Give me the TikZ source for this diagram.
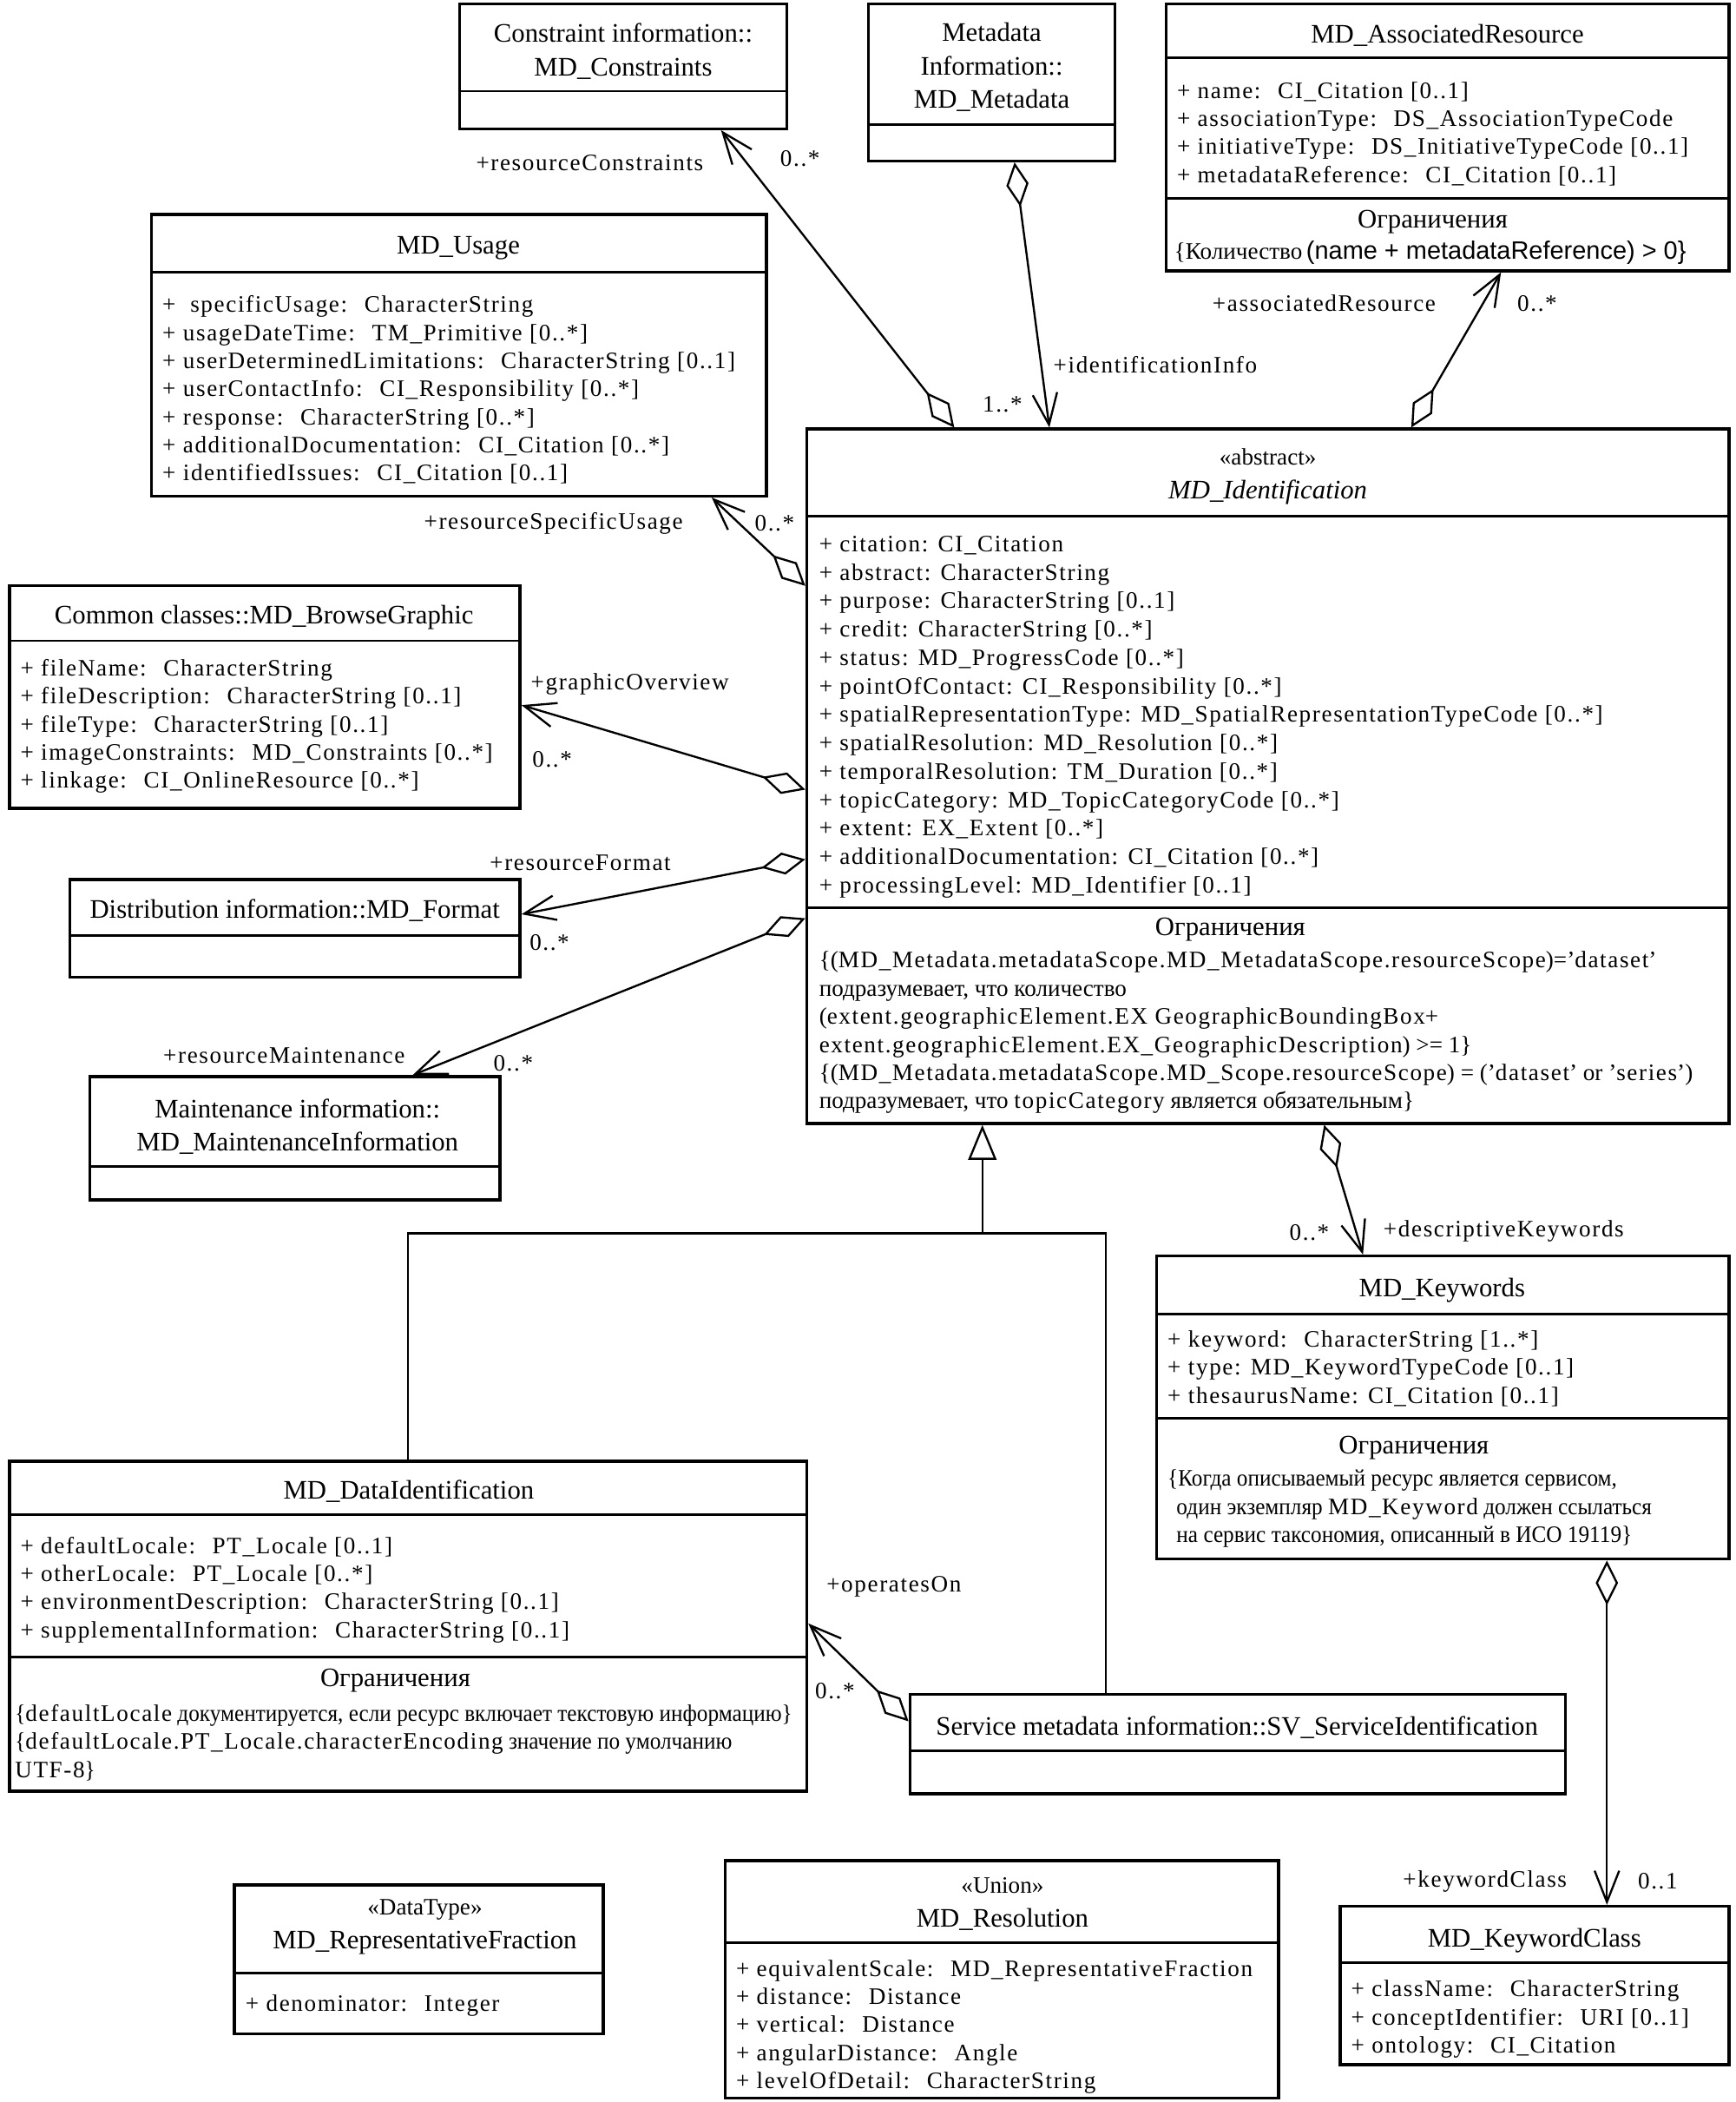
\documentclass[tikz,border=0pt]{standalone}
\usepackage{fontspec}
\setmainfont{Liberation Serif}
\newfontfamily\atfont[LetterSpace=6]{Liberation Serif}
\newfontfamily\rucond[FakeStretch=0.93]{Liberation Serif}
\newfontfamily\sansf{Liberation Sans}
\usetikzlibrary{arrows.meta,fit}

\newcommand{\hdsize}{\fontsize{17}{21.3}\selectfont}
\newcommand{\atsize}{\fontsize{15}{17.9}\atfont}
\newcommand{\rusize}{\fontsize{15}{17.9}\selectfont}
\newcommand{\code}[1]{{\atfont #1}}

\begin{document}
\begin{tikzpicture}[x=0.3mm, y=-0.3mm,
  cls/.style={draw, line width=1.9pt, inner sep=0pt},
  div/.style={line width=1.6pt},
  ttl/.style={align=center, inner sep=0pt, yshift=-0.7mm, font=\hdsize},
  attr/.style={align=left, inner sep=0pt, anchor=west, yshift=-0.7mm, font=\atsize},
  cons/.style={align=left, inner sep=0pt, anchor=west, yshift=-0.7mm, font=\rusize},
  role/.style={inner sep=0pt, yshift=-0.4mm, font=\atsize},
  link/.style={line width=1.3pt},
  aggr/.style={link, {Diamond[open,length=10mm,width=5mm]}-{Straight Barb[length=7mm,width=5.5mm]}},
  gen/.style={link, -{Triangle[open,length=7.8mm,width=6.3mm]}}
]
\useasboundingbox (0,0) rectangle (1295,1568);

% class boxes
\node[cls, fit={(343,3) (587,96)}] (constr) {};
\node[cls, fit={(648,3) (832,120)}] (meta) {};
\node[cls, fit={(870,3) (1290,202)}] (assoc) {};
\node[cls, fit={(113,160) (572,370)}] (usage) {};
\node[cls, fit={(602,320) (1290,838)}] (ident) {};
\node[cls, fit={(7,437) (388,603)}] (browse) {};
\node[cls, fit={(52,656) (388,729)}] (format) {};
\node[cls, fit={(67,803) (373,895)}] (maint) {};
\node[cls, fit={(863,937) (1290,1163)}] (kw) {};
\node[cls, fit={(7,1090) (602,1336)}] (dataid) {};
\node[cls, fit={(679,1264) (1168,1338)}] (serv) {};
\node[cls, fit={(175,1406) (450,1517)}] (repfrac) {};
\node[cls, fit={(541,1388) (954,1565)}] (resol) {};
\node[cls, fit={(1000,1422) (1290,1540)}] (kwclass) {};

% compartments
\draw[div] (constr.west |- 0,68) -- (constr.east |- 0,68);
\draw[div] (meta.west |- 0,93) -- (meta.east |- 0,93);
\draw[div] (assoc.west |- 0,43) -- (assoc.east |- 0,43);
\draw[div] (assoc.west |- 0,148) -- (assoc.east |- 0,148);
\draw[div] (usage.west |- 0,203) -- (usage.east |- 0,203);
\draw[div] (ident.west |- 0,385) -- (ident.east |- 0,385);
\draw[div] (ident.west |- 0,677) -- (ident.east |- 0,677);
\draw[div] (browse.west |- 0,478) -- (browse.east |- 0,478);
\draw[div] (format.west |- 0,698) -- (format.east |- 0,698);
\draw[div] (maint.west |- 0,870) -- (maint.east |- 0,870);
\draw[div] (kw.west |- 0,980) -- (kw.east |- 0,980);
\draw[div] (kw.west |- 0,1058) -- (kw.east |- 0,1058);
\draw[div] (dataid.west |- 0,1130) -- (dataid.east |- 0,1130);
\draw[div] (dataid.west |- 0,1236) -- (dataid.east |- 0,1236);
\draw[div] (serv.west |- 0,1306) -- (serv.east |- 0,1306);
\draw[div] (repfrac.west |- 0,1472) -- (repfrac.east |- 0,1472);
\draw[div] (resol.west |- 0,1449) -- (resol.east |- 0,1449);
\draw[div] (kwclass.west |- 0,1464) -- (kwclass.east |- 0,1464);

% titles
\node[ttl] (constr-t) at (465,36) {Constraint information::\\MD\_Constraints};
\node[ttl] (meta-t) at (740,48) {Metadata\\Information::\\MD\_Metadata};
\node[ttl] (assoc-t) at (1080,24) {MD\_AssociatedResource};
\node[ttl] (usage-t) at (342,183) {MD\_Usage};
\node[ttl] (ident-t) at (946,353) {{\rusize «abstract»}\\\textit{MD\_Identification}};
\node[ttl] (browse-t) at (197,458) {Common classes::MD\_BrowseGraphic};
\node[ttl] (format-t) at (220,677) {Distribution information::MD\_Format};
\node[ttl] (maint-t) at (222,838) {Maintenance information::\\MD\_MaintenanceInformation};
\node[ttl] (kw-t) at (1076,960) {MD\_Keywords};
\node[ttl] (dataid-t) at (305,1110) {MD\_DataIdentification};
\node[ttl] (serv-t) at (923,1286) {Service metadata information::SV\_ServiceIdentification};
\node[ttl] (repfrac-t) at (317,1435) {{\rusize «DataType»}\\MD\_RepresentativeFraction};
\node[ttl] (resol-t) at (748,1418) {{\rusize «Union»}\\MD\_Resolution};
\node[ttl] (kwclass-t) at (1145,1445) {MD\_KeywordClass};

% attributes
\node[attr] (assoc-a) at (878,97.5) {+ name:~ CI\_Citation [0..1]\\+ associationType:~ DS\_AssociationTypeCode\\+ initiativeType:~ DS\_InitiativeTypeCode [0..1]\\+ metadataReference:~ CI\_Citation [0..1]};
\node[attr] (usage-a) at (121,288.5) {+~ specificUsage:~ CharacterString\\+ usageDateTime:~ TM\_Primitive [0..*]\\+ userDeterminedLimitations:~ CharacterString [0..1]\\+ userContactInfo:~ CI\_Responsibility [0..*]\\+ response:~ CharacterString [0..*]\\+ additionalDocumentation:~ CI\_Citation [0..*]\\+ identifiedIssues:~ CI\_Citation [0..1]};
\node[attr, font=\fontsize{15}{18.1}\atfont] (ident-a) at (611,532.5) {+ citation: CI\_Citation\\+ abstract: CharacterString\\+ purpose: CharacterString [0..1]\\+ credit: CharacterString [0..*]\\+ status: MD\_ProgressCode [0..*]\\+ pointOfContact: CI\_Responsibility [0..*]\\+ spatialRepresentationType: MD\_SpatialRepresentationTypeCode [0..*]\\+ spatialResolution: MD\_Resolution [0..*]\\+ temporalResolution: TM\_Duration [0..*]\\+ topicCategory: MD\_TopicCategoryCode [0..*]\\+ extent: EX\_Extent [0..*]\\+ additionalDocumentation: CI\_Citation [0..*]\\+ processingLevel: MD\_Identifier [0..1]};
\node[attr] (browse-a) at (15,539.5) {+ fileName:~ CharacterString\\+ fileDescription:~ CharacterString [0..1]\\+ fileType:~ CharacterString [0..1]\\+ imageConstraints:~ MD\_Constraints [0..*]\\+ linkage:~ CI\_OnlineResource [0..*]};
\node[attr] (kw-a) at (871,1018.5) {+ keyword:~ CharacterString [1..*]\\+ type: MD\_KeywordTypeCode [0..1]\\+ thesaurusName: CI\_Citation [0..1]};
\node[attr] (dataid-a) at (15,1183.5) {+ defaultLocale:~ PT\_Locale [0..1]\\+ otherLocale:~ PT\_Locale [0..*]\\+ environmentDescription:~ CharacterString [0..1]\\+ supplementalInformation:~ CharacterString [0..1]};
\node[attr] (repfrac-a) at (183,1494) {+ denominator:~ Integer};
\node[attr] (resol-a) at (549,1509.5) {+ equivalentScale:~ MD\_RepresentativeFraction\\+ distance:~ Distance\\+ vertical:~ Distance\\+ angularDistance:~ Angle\\+ levelOfDetail:~ CharacterString};
\node[attr] (kwclass-a) at (1008,1504) {+ className:~ CharacterString\\+ conceptIdentifier:~ URI [0..1]\\+ ontology:~ CI\_Citation};

% constraints
\node[ttl] (assoc-c) at (1069,163) {Ограничения};
\node[cons] (assoc-cl) at (876,186) {\{Количество\,{\fontsize{16}{17.9}\sansf(name + metadataReference) > 0\}}};
\node[ttl] (ident-c) at (918,691) {Ограничения};
\node[cons] (ident-cl) at (611,768) {\{(\code{MD\_Metadata.metadataScope.MD\_MetadataScope.resourceScope})=’\code{dataset}’\\подразумевает, что количество\\(\code{extent.geographicElement.EX GeographicBoundingBox}+\\\code{extent.geographicElement.EX\_GeographicDescription}) >= 1\}\\\{(\code{MD\_Metadata.metadataScope.MD\_Scope.resourceScope}) = (’\code{dataset}’ or ’\code{series}’)\\подразумевает, что \code{topicCategory} является обязательным\}};
\node[ttl] (kw-c) at (1055,1078) {Ограничения};
\node[cons, font=\fontsize{15}{17.9}\rucond] (kw-cl) at (871,1123) {\{Когда описываемый ресурс является сервисом,\\\hspace{2mm}один экземпляр \code{MD\_Keyword} должен ссылаться\\\hspace{2mm}на сервис таксономия, описанный в ИСО 19119\}};
\node[ttl] (dataid-c) at (295,1251) {Ограничения};
\node[cons, font=\fontsize{15}{17.9}\rucond] (dataid-cl) at (11,1297.5) {\{\code{defaultLocale} документируется, если ресурс включает текстовую информацию\}\\\{\code{defaultLocale.PT\_Locale.characterEncoding} значение по умолчанию\\\code{UTF-8}\}};

% associations
\draw[aggr] (ident.north -| 712,0) -- (constr.south -| 538,0);
\draw[aggr] (meta.south -| 757,0) -- (ident.north -| 783,0);
\draw[aggr] (ident.north -| 1053,0) -- (assoc.south -| 1120,0);
\draw[aggr] (ident.west |- 0,437) -- (usage.south -| 531,0);
\draw[aggr] (ident.west |- 0,589) -- (browse.east |- 0,526);
\draw[aggr] (ident.west |- 0,641) -- (format.east |- 0,682);
\draw[aggr] (ident.west |- 0,685) -- (maint.north -| 308,0);
\draw[aggr] (ident.south -| 988,0) -- (kw.north -| 1017,0);
\draw[aggr] (serv.west |- 0,1284) -- (dataid.east |- 0,1211);
\draw[aggr] (kw.south -| 1199,0) -- (kwclass.north -| 1199,0);

% generalization
\coordinate (gj) at (733,920);
\coordinate (sj) at (825,920);
\draw[gen] (gj) -- (gj |- ident.south);
\draw[link] (dataid.north) |- (sj) -- (sj |- serv.north);

% role names and multiplicities
\node[role] (r1) at (440,120) {+resourceConstraints};
\node[role] (m1) at (597,117) {0..*};
\node[role] (r2) at (862,271) {+identificationInfo};
\node[role] (m2) at (748,300) {1..*};
\node[role] (r3) at (988,225) {+associatedResource};
\node[role] (m3) at (1147,225) {0..*};
\node[role] (r4) at (413,389) {+resourceSpecificUsage};
\node[role] (m4) at (578,389) {0..*};
\node[role] (r5) at (470,509) {+graphicOverview};
\node[role] (m5) at (412,565) {0..*};
\node[role] (r6) at (433,642) {+resourceFormat};
\node[role] (m6) at (410,702) {0..*};
\node[role] (r7) at (212,786) {+resourceMaintenance};
\node[role] (m7) at (383,792) {0..*};
\node[role] (r8) at (1122,917) {+descriptiveKeywords};
\node[role] (m8) at (977,918) {0..*};
\node[role] (r9) at (667,1182) {+operatesOn};
\node[role] (m9) at (623,1260) {0..*};
\node[role] (r10) at (1108,1402) {+keywordClass};
\node[role] (m10) at (1237,1402) {0..1};
\end{tikzpicture}
\end{document}
